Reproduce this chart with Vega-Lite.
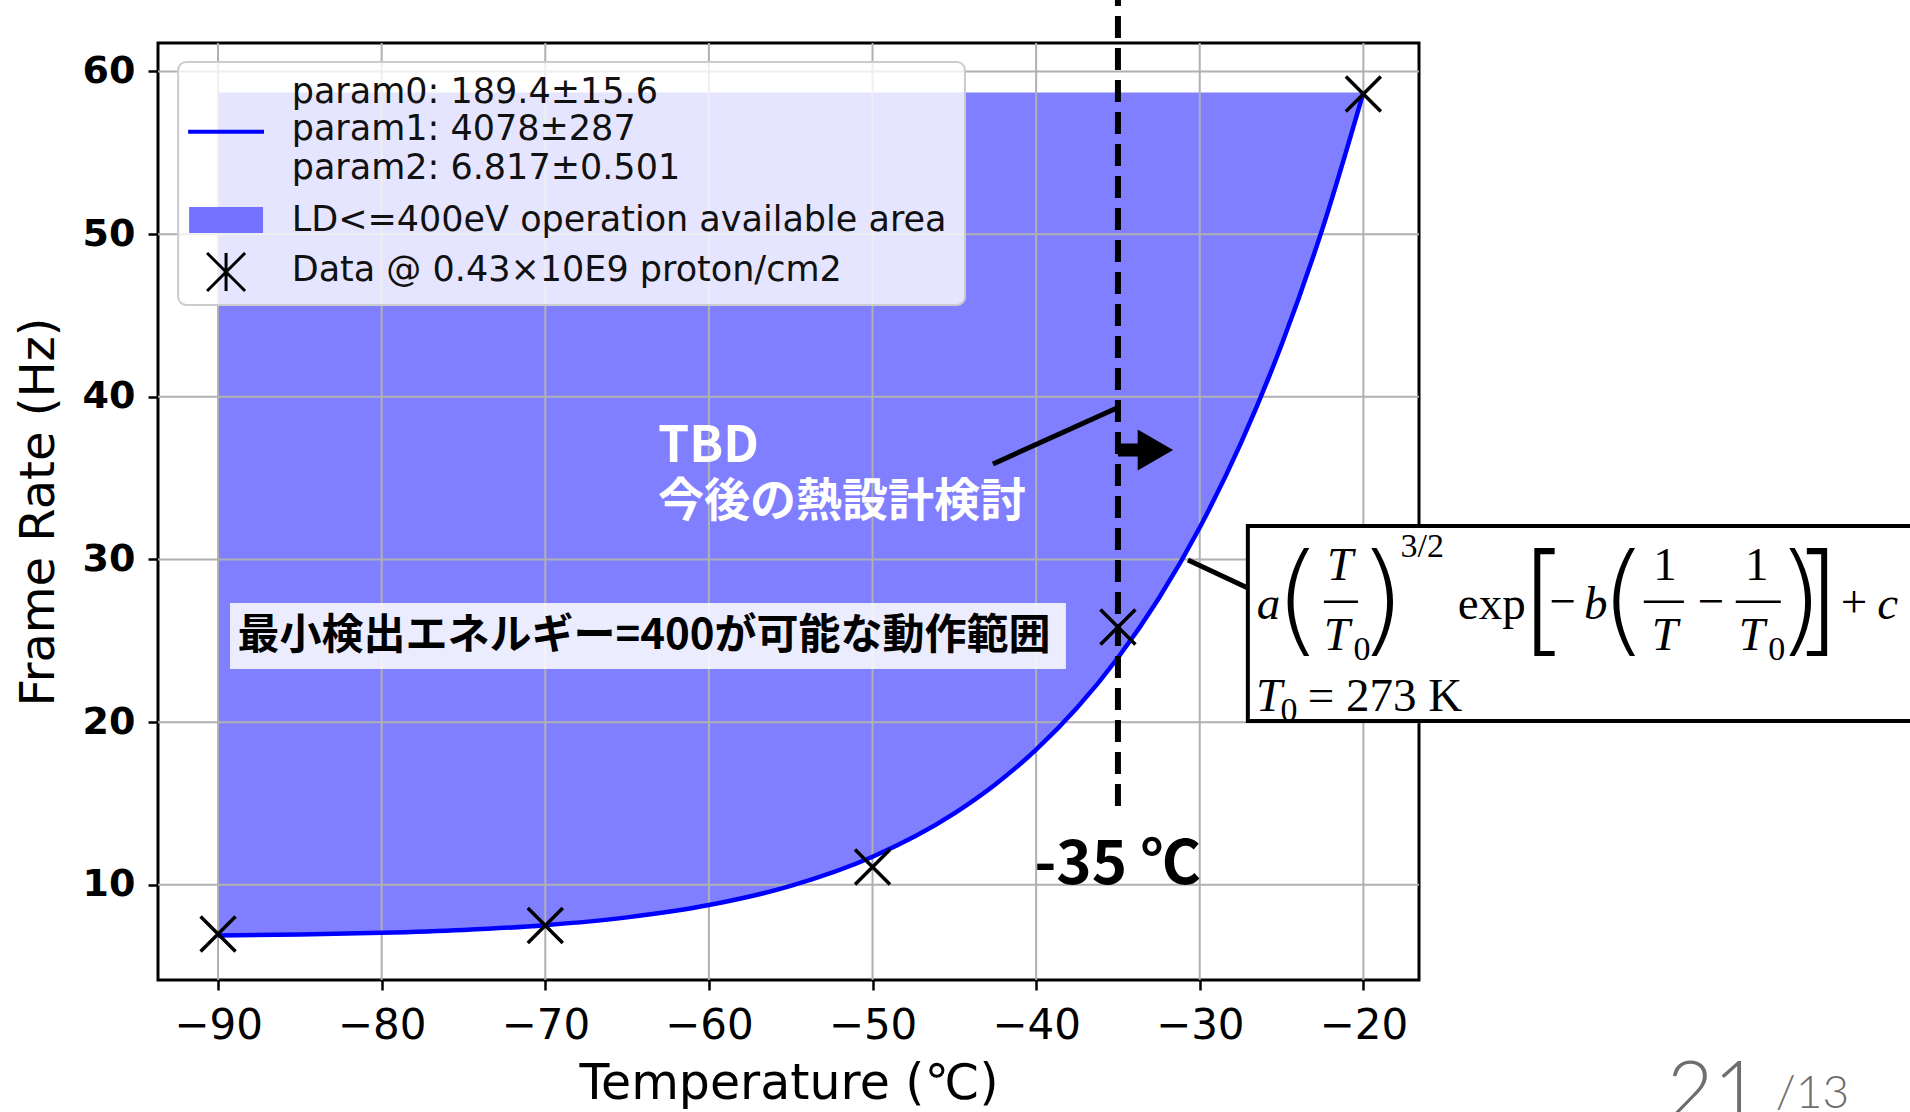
{
  "$schema": "https://vega.github.io/schema/vega-lite/v6.json",
  "width": 1261,
  "height": 937,
  "autosize": {"type": "none"},
  "padding": {"left": 158, "top": 43, "right": 491, "bottom": 132},
  "background": "white",
  "config": {
    "view": {"stroke": "black", "strokeWidth": 3},
    "axis": {"grid": false, "domain": false, "tickSize": 10, "tickWidth": 2.5, "tickColor": "black", "labelColor": "black", "labelOverlap": false, "labelFlush": false, "format": "d", "titleColor": "black", "titleFontWeight": "normal", "titleFont": "DejaVu Sans", "labelFont": "DejaVu Sans"},
    "axisX": {"tickCount": 8, "labelFontSize": 42, "labelPadding": 15, "titleFontSize": 49, "titleY": 103, "titleBaseline": "middle"},
    "axisY": {"tickCount": 6, "labelFontSize": 38, "labelFontWeight": "bold", "labelPadding": 13, "titleFontSize": 48, "titleX": -119, "titleY": 468.5, "titleAngle": -90, "titleAlign": "center", "titleBaseline": "middle"}
  },
  "datasets": {
    "curve": [
      {"t": -90, "f": 6.884}, {"t": -85, "f": 6.943}, {"t": -80, "f": 7.047}, {"t": -75, "f": 7.225},
      {"t": -70, "f": 7.521}, {"t": -65, "f": 7.999}, {"t": -60, "f": 8.758}, {"t": -55, "f": 9.935},
      {"t": -50, "f": 11.727}, {"t": -45, "f": 14.396}, {"t": -42.5, "f": 16.17}, {"t": -40, "f": 18.308},
      {"t": -37.5, "f": 20.88}, {"t": -35, "f": 23.96}, {"t": -32.5, "f": 27.62}, {"t": -30, "f": 31.97},
      {"t": -27.5, "f": 37.12}, {"t": -25, "f": 43.2}, {"t": -22.5, "f": 50.34}, {"t": -20, "f": 58.7}
    ],
    "pts": [
      {"t": -90, "f": 6.98}, {"t": -70, "f": 7.5}, {"t": -50, "f": 11.1}, {"t": -35, "f": 25.85}, {"t": -20, "f": 58.62}
    ]
  },
  "layer": [
    {
      "data": {"name": "curve"},
      "mark": {"type": "area", "color": "#0000ff", "opacity": 0.5, "interpolate": "monotone"},
      "encoding": {
        "x": {"field": "t", "type": "quantitative", "title": "Temperature (℃)", "scale": {"domain": [-93.67, -16.6], "nice": false, "zero": false},
          "axis": {"values": [-90, -80, -70, -60, -50, -40, -30, -20]}},
        "y": {"field": "f", "type": "quantitative", "title": "Frame Rate (Hz)", "scale": {"domain": [4.15, 61.75], "nice": false, "zero": false},
          "axis": {"values": [10, 20, 30, 40, 50, 60]}},
        "y2": {"datum": 58.7}
      }
    },
    {
      "data": {"values": [{"v": -90}, {"v": -80}, {"v": -70}, {"v": -60}, {"v": -50}, {"v": -40}, {"v": -30}, {"v": -20}]},
      "mark": {"type": "rule", "color": "#b0b0b0", "strokeWidth": 2},
      "encoding": {"x": {"field": "v", "type": "quantitative", "title": "Temperature (℃)", "scale": {"domain": [-93.67, -16.6], "nice": false, "zero": false}}}
    },
    {
      "data": {"values": [{"v": 10}, {"v": 20}, {"v": 30}, {"v": 40}, {"v": 50}, {"v": 60}]},
      "mark": {"type": "rule", "color": "#b0b0b0", "strokeWidth": 2},
      "encoding": {"y": {"field": "v", "type": "quantitative", "title": "Frame Rate (Hz)", "scale": {"domain": [4.15, 61.75], "nice": false, "zero": false}}}
    },
    {
      "data": {"name": "curve"},
      "mark": {"type": "line", "color": "#0000ff", "strokeWidth": 4.5, "interpolate": "monotone"},
      "encoding": {
        "x": {"field": "t", "type": "quantitative", "title": "Temperature (℃)", "scale": {"domain": [-93.67, -16.6], "nice": false, "zero": false}},
        "y": {"field": "f", "type": "quantitative", "title": "Frame Rate (Hz)", "scale": {"domain": [4.15, 61.75], "nice": false, "zero": false}}
      }
    },
    {
      "data": {"name": "pts"},
      "mark": {"type": "point", "shape": "M-1,-1L1,1M-1,1L1,-1", "size": 1225, "filled": false, "color": "black", "strokeWidth": 3.5, "opacity": 1},
      "encoding": {
        "x": {"field": "t", "type": "quantitative", "title": "Temperature (℃)", "scale": {"domain": [-93.67, -16.6], "nice": false, "zero": false}},
        "y": {"field": "f", "type": "quantitative", "title": "Frame Rate (Hz)", "scale": {"domain": [4.15, 61.75], "nice": false, "zero": false}}
      }
    },
    {
      "data": {"values": [{"x": -92.44, "x2": -44.35, "y": 60.58, "y2": 45.65}]},
      "mark": {"type": "rect", "fill": "white", "fillOpacity": 0.8, "stroke": "#cccccc", "strokeWidth": 2, "cornerRadius": 8},
      "encoding": {
        "x": {"field": "x", "type": "quantitative", "title": "Temperature (℃)", "scale": {"domain": [-93.67, -16.6], "nice": false, "zero": false}},
        "x2": {"field": "x2"},
        "y": {"field": "y", "type": "quantitative", "title": "Frame Rate (Hz)", "scale": {"domain": [4.15, 61.75], "nice": false, "zero": false}},
        "y2": {"field": "y2"}
      }
    },
    {
      "data": {"values": [{"x": -91.83, "x2": -87.19, "y": 56.3}]},
      "mark": {"type": "rule", "color": "#0000ff", "strokeWidth": 4},
      "encoding": {
        "x": {"field": "x", "type": "quantitative", "title": "Temperature (℃)", "scale": {"domain": [-93.67, -16.6], "nice": false, "zero": false}},
        "x2": {"field": "x2"},
        "y": {"field": "y", "type": "quantitative", "title": "Frame Rate (Hz)", "scale": {"domain": [4.15, 61.75], "nice": false, "zero": false}}
      }
    },
    {
      "data": {"values": [{"x": -91.77, "x2": -87.25, "y": 51.67, "y2": 50.07}]},
      "mark": {"type": "rect", "color": "#7373ff"},
      "encoding": {
        "x": {"field": "x", "type": "quantitative", "title": "Temperature (℃)", "scale": {"domain": [-93.67, -16.6], "nice": false, "zero": false}},
        "x2": {"field": "x2"},
        "y": {"field": "y", "type": "quantitative", "title": "Frame Rate (Hz)", "scale": {"domain": [4.15, 61.75], "nice": false, "zero": false}},
        "y2": {"field": "y2"}
      }
    },
    {
      "data": {"values": [{"x": -89.51, "y": 47.67}]},
      "mark": {"type": "point", "shape": "M-1,-1L1,1M-1,1L1,-1M0,-1L0,1", "size": 1444, "filled": false, "color": "black", "strokeWidth": 3, "opacity": 1},
      "encoding": {
        "x": {"field": "x", "type": "quantitative", "title": "Temperature (℃)", "scale": {"domain": [-93.67, -16.6], "nice": false, "zero": false}},
        "y": {"field": "y", "type": "quantitative", "title": "Frame Rate (Hz)", "scale": {"domain": [4.15, 61.75], "nice": false, "zero": false}}
      }
    },
    {
      "data": {"values": [
        {"s": "param0: 189.4±15.6", "x": -85.5, "y": 58.74},
        {"s": "param1: 4078±287", "x": -85.5, "y": 56.47},
        {"s": "param2: 6.817±0.501", "x": -85.5, "y": 54.07},
        {"s": "LD<=400eV operation available area", "x": -85.5, "y": 50.84},
        {"s": "Data @ 0.43×10E9 proton/cm2", "x": -85.5, "y": 47.8}
      ]},
      "mark": {"type": "text", "font": "DejaVu Sans", "fontSize": 35, "color": "#111111", "align": "left", "baseline": "middle"},
      "encoding": {
        "x": {"field": "x", "type": "quantitative", "title": "Temperature (℃)", "scale": {"domain": [-93.67, -16.6], "nice": false, "zero": false}},
        "y": {"field": "y", "type": "quantitative", "title": "Frame Rate (Hz)", "scale": {"domain": [4.15, 61.75], "nice": false, "zero": false}},
        "text": {"field": "s"}
      }
    },
    {
      "data": {"values": [{"x": -35, "y": 14.85, "y2": 64.4}]},
      "mark": {"type": "rule", "color": "black", "strokeWidth": 6, "strokeDash": [22, 10]},
      "encoding": {
        "x": {"field": "x", "type": "quantitative", "title": "Temperature (℃)", "scale": {"domain": [-93.67, -16.6], "nice": false, "zero": false}},
        "y": {"field": "y", "type": "quantitative", "title": "Frame Rate (Hz)", "scale": {"domain": [4.15, 61.75], "nice": false, "zero": false}},
        "y2": {"field": "y2"}
      }
    },
    {
      "data": {"values": [{"x": -42.64, "x2": -35.06, "y": 35.87, "y2": 39.31}, {"x": -30.72, "x2": -27.06, "y": 29.97, "y2": 28.25}]},
      "mark": {"type": "rule", "color": "black", "strokeWidth": 5},
      "encoding": {
        "x": {"field": "x", "type": "quantitative", "title": "Temperature (℃)", "scale": {"domain": [-93.67, -16.6], "nice": false, "zero": false}},
        "x2": {"field": "x2"},
        "y": {"field": "y", "type": "quantitative", "title": "Frame Rate (Hz)", "scale": {"domain": [4.15, 61.75], "nice": false, "zero": false}},
        "y2": {"field": "y2"}
      }
    },
    {
      "data": {"values": [{"x": -35, "x2": -33.7, "y": 36.73}]},
      "mark": {"type": "rule", "color": "black", "strokeWidth": 13},
      "encoding": {
        "x": {"field": "x", "type": "quantitative", "title": "Temperature (℃)", "scale": {"domain": [-93.67, -16.6], "nice": false, "zero": false}},
        "x2": {"field": "x2"},
        "y": {"field": "y", "type": "quantitative", "title": "Frame Rate (Hz)", "scale": {"domain": [4.15, 61.75], "nice": false, "zero": false}}
      }
    },
    {
      "data": {"values": [{"x": -32.71, "y": 36.73}]},
      "mark": {"type": "point", "shape": "triangle-right", "size": 1681, "filled": true, "color": "black", "opacity": 1},
      "encoding": {
        "x": {"field": "x", "type": "quantitative", "title": "Temperature (℃)", "scale": {"domain": [-93.67, -16.6], "nice": false, "zero": false}},
        "y": {"field": "y", "type": "quantitative", "title": "Frame Rate (Hz)", "scale": {"domain": [4.15, 61.75], "nice": false, "zero": false}}
      }
    },
    {
      "data": {"values": [{"s": "TBD", "x": -63.11, "y": 36.92}]},
      "mark": {"type": "text", "font": "Noto Sans CJK JP", "fontSize": 50, "fontWeight": "bold", "color": "white", "align": "left", "baseline": "middle"},
      "encoding": {
        "x": {"field": "x", "type": "quantitative", "title": "Temperature (℃)", "scale": {"domain": [-93.67, -16.6], "nice": false, "zero": false}},
        "y": {"field": "y", "type": "quantitative", "title": "Frame Rate (Hz)", "scale": {"domain": [4.15, 61.75], "nice": false, "zero": false}},
        "text": {"field": "s"}
      }
    },
    {
      "data": {"values": [{"s": "今後の熱設計検討", "x": -63.11, "y": 33.54}]},
      "mark": {"type": "text", "font": "Noto Sans CJK JP", "fontSize": 46, "fontWeight": "bold", "color": "white", "align": "left", "baseline": "middle"},
      "encoding": {
        "x": {"field": "x", "type": "quantitative", "title": "Temperature (℃)", "scale": {"domain": [-93.67, -16.6], "nice": false, "zero": false}},
        "y": {"field": "y", "type": "quantitative", "title": "Frame Rate (Hz)", "scale": {"domain": [4.15, 61.75], "nice": false, "zero": false}},
        "text": {"field": "s"}
      }
    },
    {
      "data": {"values": [{"x": -89.27, "x2": -38.18, "y": 27.33, "y2": 23.27}]},
      "mark": {"type": "rect", "fill": "white", "fillOpacity": 0.85},
      "encoding": {
        "x": {"field": "x", "type": "quantitative", "title": "Temperature (℃)", "scale": {"domain": [-93.67, -16.6], "nice": false, "zero": false}},
        "x2": {"field": "x2"},
        "y": {"field": "y", "type": "quantitative", "title": "Frame Rate (Hz)", "scale": {"domain": [4.15, 61.75], "nice": false, "zero": false}},
        "y2": {"field": "y2"}
      }
    },
    {
      "data": {"values": [{"s": "最小検出エネルギー=400が可能な動作範囲", "x": -63.97, "y": 25.3}]},
      "mark": {"type": "text", "font": "Noto Sans CJK JP", "fontSize": 42, "fontWeight": "bold", "color": "black", "align": "center", "baseline": "middle"},
      "encoding": {
        "x": {"field": "x", "type": "quantitative", "title": "Temperature (℃)", "scale": {"domain": [-93.67, -16.6], "nice": false, "zero": false}},
        "y": {"field": "y", "type": "quantitative", "title": "Frame Rate (Hz)", "scale": {"domain": [4.15, 61.75], "nice": false, "zero": false}},
        "text": {"field": "s"}
      }
    },
    {
      "data": {"values": [{"s": "-35 ℃", "x": -35.03, "y": 11.16}]},
      "mark": {"type": "text", "font": "Noto Sans CJK JP", "fontSize": 60, "fontWeight": "bold", "color": "black", "align": "center", "baseline": "middle"},
      "encoding": {
        "x": {"field": "x", "type": "quantitative", "title": "Temperature (℃)", "scale": {"domain": [-93.67, -16.6], "nice": false, "zero": false}},
        "y": {"field": "y", "type": "quantitative", "title": "Frame Rate (Hz)", "scale": {"domain": [4.15, 61.75], "nice": false, "zero": false}},
        "text": {"field": "s"}
      }
    },
    {
      "data": {"values": [{"x": -27.06, "x2": 15.5, "y": 32.06, "y2": 20.07}]},
      "mark": {"type": "rect", "fill": "white", "stroke": "black", "strokeWidth": 4},
      "encoding": {
        "x": {"field": "x", "type": "quantitative", "title": "Temperature (℃)", "scale": {"domain": [-93.67, -16.6], "nice": false, "zero": false}},
        "x2": {"field": "x2"},
        "y": {"field": "y", "type": "quantitative", "title": "Frame Rate (Hz)", "scale": {"domain": [4.15, 61.75], "nice": false, "zero": false}},
        "y2": {"field": "y2"}
      }
    },
    {
      "data": {"values": [
        {"s": "a", "x": -25.8, "y": 27.2}, {"s": "T", "x": -21.43, "y": 29.6}, {"s": "T", "x": -21.62, "y": 25.3},
        {"s": "b", "x": -5.79, "y": 27.2}, {"s": "T", "x": -1.57, "y": 25.3}, {"s": "T", "x": 3.74, "y": 25.3},
        {"s": "c", "x": 12.05, "y": 27.2}, {"s": "T", "x": -25.77, "y": 21.55}
      ]},
      "mark": {"type": "text", "font": "Liberation Serif", "fontSize": 47, "fontStyle": "italic", "color": "black", "align": "center", "baseline": "middle"},
      "encoding": {
        "x": {"field": "x", "type": "quantitative", "title": "Temperature (℃)", "scale": {"domain": [-93.67, -16.6], "nice": false, "zero": false}},
        "y": {"field": "y", "type": "quantitative", "title": "Frame Rate (Hz)", "scale": {"domain": [4.15, 61.75], "nice": false, "zero": false}},
        "text": {"field": "s"}
      }
    },
    {
      "data": {"values": [
        {"s": "exp", "x": -12.15, "y": 27.2}, {"s": "−", "x": -7.81, "y": 27.3}, {"s": "1", "x": -1.57, "y": 29.6},
        {"s": "−", "x": 1.24, "y": 27.3}, {"s": "1", "x": 4.05, "y": 29.6}, {"s": "+", "x": 9.98, "y": 27.3},
        {"s": "= 273 K", "x": -18.68, "y": 21.55}
      ]},
      "mark": {"type": "text", "font": "Liberation Serif", "fontSize": 47, "color": "black", "align": "center", "baseline": "middle"},
      "encoding": {
        "x": {"field": "x", "type": "quantitative", "title": "Temperature (℃)", "scale": {"domain": [-93.67, -16.6], "nice": false, "zero": false}},
        "y": {"field": "y", "type": "quantitative", "title": "Frame Rate (Hz)", "scale": {"domain": [4.15, 61.75], "nice": false, "zero": false}},
        "text": {"field": "s"}
      }
    },
    {
      "data": {"values": [
        {"s": "0", "x": -20.09, "y": 24.44}, {"s": "0", "x": 5.27, "y": 24.44}, {"s": "0", "x": -24.55, "y": 20.68},
        {"s": "3/2", "x": -16.4, "y": 30.77}
      ]},
      "mark": {"type": "text", "font": "Liberation Serif", "fontSize": 34, "color": "black", "align": "center", "baseline": "middle"},
      "encoding": {
        "x": {"field": "x", "type": "quantitative", "title": "Temperature (℃)", "scale": {"domain": [-93.67, -16.6], "nice": false, "zero": false}},
        "y": {"field": "y", "type": "quantitative", "title": "Frame Rate (Hz)", "scale": {"domain": [4.15, 61.75], "nice": false, "zero": false}},
        "text": {"field": "s"}
      }
    },
    {
      "data": {"values": [
        {"s": "(", "x": -24.0, "y": 27.3}, {"s": ")", "x": -18.87, "y": 27.3}, {"s": "[", "x": -8.94, "y": 27.3},
        {"s": "(", "x": -4.08, "y": 27.3}, {"s": ")", "x": 6.68, "y": 27.3}, {"s": "]", "x": 7.71, "y": 27.3}
      ]},
      "mark": {"type": "text", "font": "DejaVu Sans", "fontSize": 122, "fontWeight": 200, "color": "black", "align": "center", "baseline": "middle"},
      "encoding": {
        "x": {"field": "x", "type": "quantitative", "title": "Temperature (℃)", "scale": {"domain": [-93.67, -16.6], "nice": false, "zero": false}},
        "y": {"field": "y", "type": "quantitative", "title": "Frame Rate (Hz)", "scale": {"domain": [4.15, 61.75], "nice": false, "zero": false}},
        "text": {"field": "s"}
      }
    },
    {
      "data": {"values": [{"x": -22.41, "x2": -20.33, "y": 27.4}, {"x": -2.86, "x2": -0.41, "y": 27.4}, {"x": 2.76, "x2": 5.51, "y": 27.4}]},
      "mark": {"type": "rule", "color": "black", "strokeWidth": 2.5},
      "encoding": {
        "x": {"field": "x", "type": "quantitative", "title": "Temperature (℃)", "scale": {"domain": [-93.67, -16.6], "nice": false, "zero": false}},
        "x2": {"field": "x2"},
        "y": {"field": "y", "type": "quantitative", "title": "Frame Rate (Hz)", "scale": {"domain": [4.15, 61.75], "nice": false, "zero": false}}
      }
    },
    {
      "data": {"values": [{"s": "21", "x": 4.23, "y": -4.33}]},
      "mark": {"type": "text", "font": "Lato", "fontSize": 80, "fontWeight": 300, "color": "#6e6e6e", "align": "right", "baseline": "alphabetic"},
      "encoding": {
        "x": {"field": "x", "type": "quantitative", "title": "Temperature (℃)", "scale": {"domain": [-93.67, -16.6], "nice": false, "zero": false}},
        "y": {"field": "y", "type": "quantitative", "title": "Frame Rate (Hz)", "scale": {"domain": [4.15, 61.75], "nice": false, "zero": false}},
        "text": {"field": "s"}
      }
    },
    {
      "data": {"values": [{"s": "/13", "x": 5.21, "y": -3.72}]},
      "mark": {"type": "text", "font": "Lato", "fontSize": 46, "fontWeight": 300, "color": "#6e6e6e", "align": "left", "baseline": "alphabetic"},
      "encoding": {
        "x": {"field": "x", "type": "quantitative", "title": "Temperature (℃)", "scale": {"domain": [-93.67, -16.6], "nice": false, "zero": false}},
        "y": {"field": "y", "type": "quantitative", "title": "Frame Rate (Hz)", "scale": {"domain": [4.15, 61.75], "nice": false, "zero": false}},
        "text": {"field": "s"}
      }
    }
  ]
}
